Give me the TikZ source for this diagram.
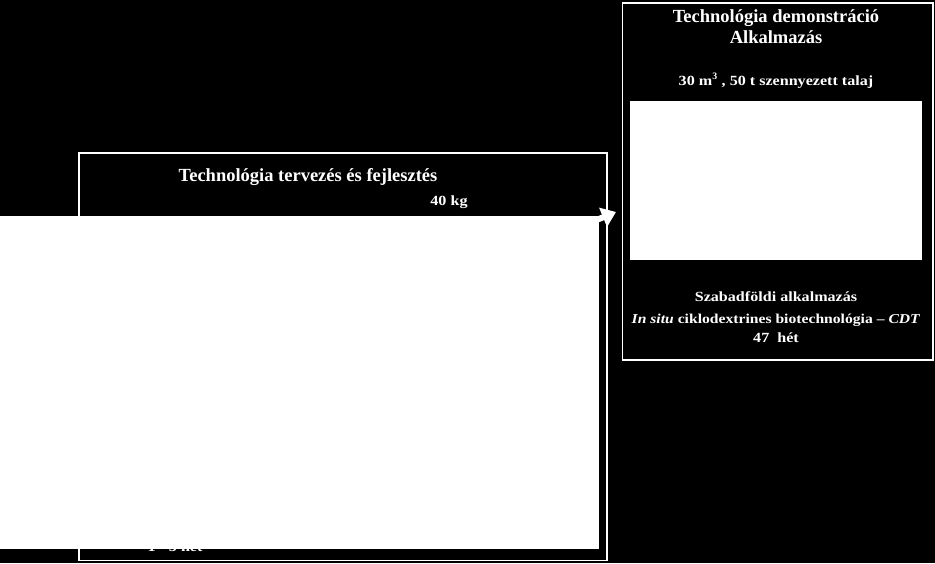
\documentclass[tikz,border=0pt]{standalone}
\usepackage{fontspec}
\setmainfont{Liberation Serif}
\newfontfamily\widesrf[FakeStretch=1.15,Ligatures=TeX]{Liberation Serif}
\usetikzlibrary{arrows.meta}
\begin{document}
\begin{tikzpicture}[x=1pt,y=-1pt,
  frame/.style={draw=white, line width=1.6pt, fill=none, inner sep=0pt, anchor=north west},
  whitebox/.style={fill=white, draw=none, inner sep=0pt, anchor=north west},
  titletxt/.style={text=white, font=\fontsize{18.5}{20}\selectfont\bfseries, anchor=base, inner sep=0pt},
  smalltxt/.style={text=white, font=\widesrf\fontsize{14}{16}\selectfont\bfseries, anchor=base, inner sep=0pt},
  bigarrow/.style={draw=white, line width=6pt, -{Triangle[length=14pt,width=20pt]}}
]
\fill[black] (0,0) rectangle (935,563);
\useasboundingbox (0,0) rectangle (935,563);

% left box
\node[frame, minimum width=528pt, minimum height=407.5pt] (leftbox) at (78,152) {};
\node[titletxt] (lefttitle) at (308,181) {Technológia tervezés és fejlesztés};
\node[smalltxt] (kg) at (449,205) {40 kg};
\node[smalltxt] (weeks) at (175,551.5) {1 - 5 hét};

% right box
\node[frame, minimum width=310.5pt, minimum height=357pt] (rightbox) at (621.5,2) {};
\node[titletxt] (righttitle) at (776,22.7) {Technológia demonstráció};
\node[titletxt] (rightsub) at (776,43) {Alkalmazás};
\node[smalltxt] (amount) at (776,85) {30 m$^{\mathbf{3}}$ , 50 t szennyezett talaj};
\node[whitebox, minimum width=292pt, minimum height=159pt] (photo) at (630,101) {};
\node[smalltxt] (field) at (776,301) {Szabadföldi alkalmazás};
\node[smalltxt, font=\widesrf\fontsize{13.6}{16}\selectfont\bfseries] (method) at (776,323) {\textit{In situ} ciklodextrines biotechnológia – \textit{CDT}};
\node[smalltxt] (dur) at (776,342) {47~ hét};

% arrow
\coordinate (arrstart) at (560,235);
\coordinate (arrtip) at (616,212);
\draw[bigarrow] (arrstart) -- (arrtip);

% white cover rectangle
\node[whitebox, minimum width=599pt, minimum height=333pt] (cover) at (0,216) {};
\end{tikzpicture}
\end{document}
